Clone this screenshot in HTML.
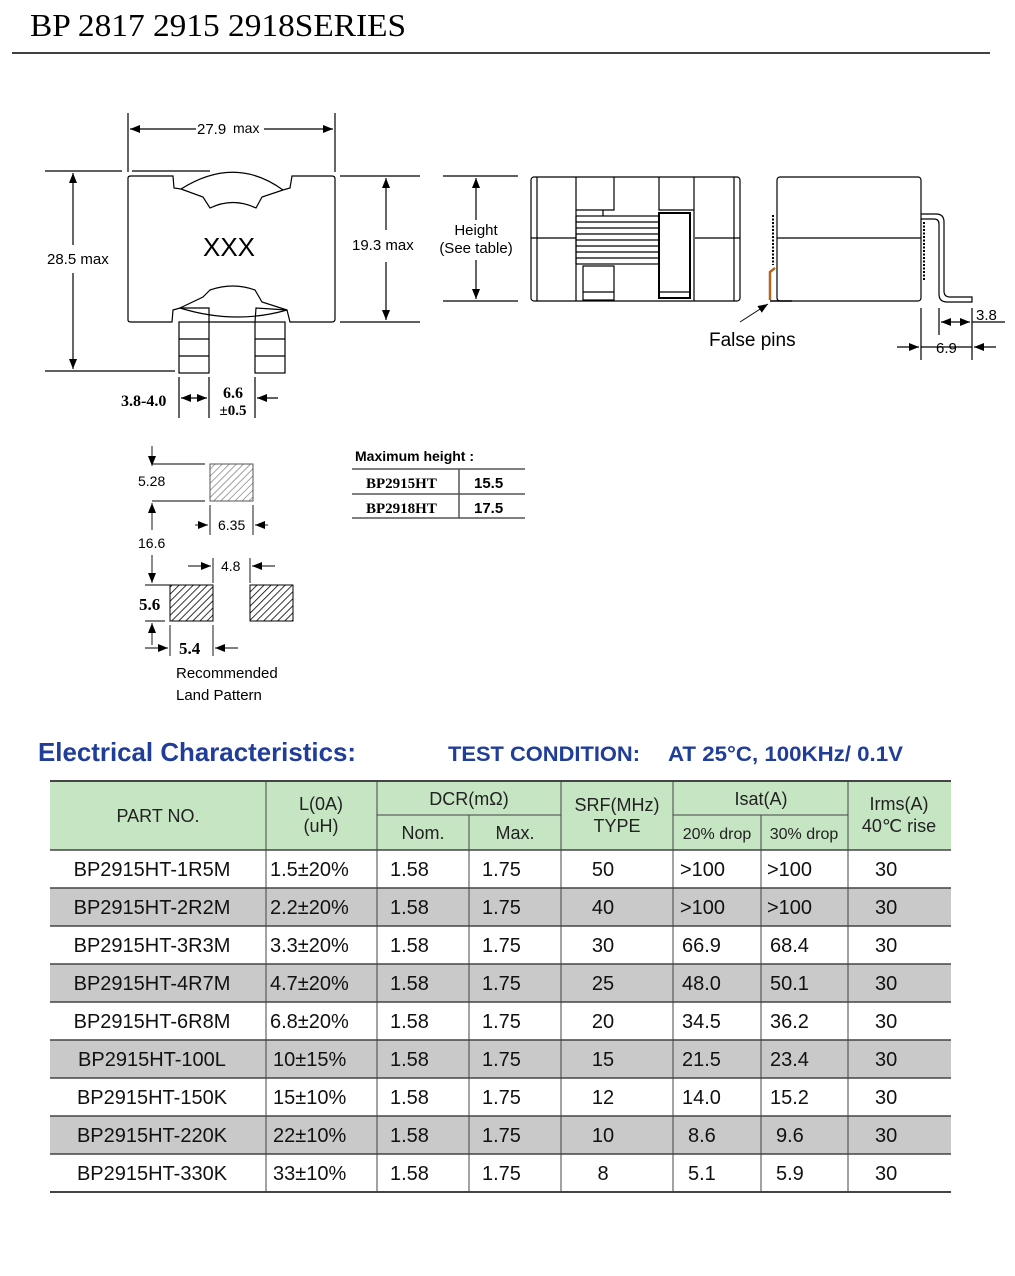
<!DOCTYPE html>
<html><head><meta charset="utf-8"><style>
html,body{margin:0;padding:0;background:#fff}
svg{display:block}
.s{font-family:"Liberation Sans",Arial,sans-serif}
.n{font-family:"Liberation Sans",sans-serif}
.r{font-family:"Liberation Serif",serif}
</style></head><body>
<svg width="1015" height="1276" viewBox="0 0 1015 1276" xmlns="http://www.w3.org/2000/svg">
<defs>
<marker id="a" markerWidth="10" markerHeight="8" refX="10" refY="4" orient="auto-start-reverse" markerUnits="userSpaceOnUse"><path d="M0,0 L10,4 L0,8 z" fill="#000"/></marker>
<pattern id="h" width="5" height="5" patternUnits="userSpaceOnUse" patternTransform="rotate(45)"><rect width="5" height="5" fill="#fff"/><line x1="0" y1="0" x2="0" y2="5" stroke="#000" stroke-width="1.6"/></pattern>
<pattern id="h2" width="5" height="5" patternUnits="userSpaceOnUse" patternTransform="rotate(45)"><rect width="5" height="5" fill="#fff"/><line x1="0" y1="0" x2="0" y2="5" stroke="#666" stroke-width="1.2"/></pattern>
</defs>
<text x="30" y="36" class="r" font-size="32" textLength="376" lengthAdjust="spacingAndGlyphs">BP 2817 2915 2918SERIES</text>
<line x1="12" y1="53" x2="990" y2="53" stroke="#000" stroke-width="1.5"/>

<g stroke="#000" stroke-width="1.2" fill="none">
<path d="M128,178 L128,320 Q128,322 131,322 L172,322 L173,310 L180,308 L209,308 L209,322 L255,322 L256,308 L287,310 L290,322 L332,322 Q335,322 335,319 L335,179 Q335,176 332,176 L292,176 L290,188 L283,190 Q235,155 181,189 L174,188 L173,176 L131,176 Q128,176 128,178 Z"/>
<path d="M181,189 L203,197 L210,208 Q233,197 256,208 L262,197 L283,190"/>
<path d="M180,308 Q235,325 287,310"/>
<path d="M180,308 L203,297 L210,290 Q233,282 255,290 L262,302 L287,310"/>
<rect x="179" y="322" width="30" height="51"/><line x1="179" y1="339" x2="209" y2="339"/><line x1="179" y1="356" x2="209" y2="356"/>
<rect x="255" y="322" width="30" height="51"/><line x1="255" y1="339" x2="285" y2="339"/><line x1="255" y1="356" x2="285" y2="356"/>
<line x1="128" y1="113" x2="128" y2="172"/><line x1="335" y1="113" x2="335" y2="172"/>
<line x1="130" y1="129" x2="196" y2="129" marker-start="url(#a)"/><line x1="264" y1="129" x2="333" y2="129" marker-end="url(#a)"/>
<line x1="45" y1="171" x2="122" y2="171"/><line x1="132" y1="171" x2="210" y2="171"/>
<line x1="45" y1="371" x2="175" y2="371"/>
<line x1="73" y1="173" x2="73" y2="245" marker-start="url(#a)"/><line x1="73" y1="273" x2="73" y2="369" marker-end="url(#a)"/>
<line x1="340" y1="176" x2="420" y2="176"/><line x1="340" y1="322" x2="420" y2="322"/>
<line x1="386" y1="178" x2="386" y2="230" marker-start="url(#a)"/><line x1="386" y1="262" x2="386" y2="320" marker-end="url(#a)"/>
<line x1="179" y1="377" x2="179" y2="418"/><line x1="209" y1="377" x2="209" y2="418"/><line x1="255" y1="377" x2="255" y2="418"/>
<line x1="181" y1="398" x2="207" y2="398" marker-start="url(#a)" marker-end="url(#a)"/>
<line x1="278" y1="398" x2="257" y2="398" marker-end="url(#a)"/>
<line x1="443" y1="176" x2="518" y2="176"/><line x1="443" y1="301" x2="518" y2="301"/>
<line x1="476" y1="178" x2="476" y2="220" marker-start="url(#a)"/><line x1="476" y1="260" x2="476" y2="299" marker-end="url(#a)"/>
<rect x="531" y="177" width="209" height="124" rx="3"/>
<line x1="537" y1="177" x2="537" y2="301"/><line x1="734" y1="177" x2="734" y2="301"/>
<line x1="531" y1="238" x2="576" y2="238"/><line x1="695" y1="238" x2="740" y2="238"/>
<line x1="576" y1="177" x2="576" y2="301"/><line x1="694" y1="177" x2="694" y2="301"/>
<path d="M614,177 L614,210 L576,210"/><path d="M659,177 L659,210 L694,210"/>
<line x1="603" y1="210" x2="603" y2="216"/>
<rect x="576" y="216" width="83" height="48"/>
<line x1="576" y1="222" x2="659" y2="222"/><line x1="576" y1="228" x2="659" y2="228"/><line x1="576" y1="234" x2="659" y2="234"/><line x1="576" y1="240" x2="659" y2="240"/><line x1="576" y1="246" x2="659" y2="246"/><line x1="576" y1="252" x2="659" y2="252"/><line x1="576" y1="258" x2="659" y2="258"/>
<rect x="659" y="213" width="31" height="85" stroke-width="2"/>
<rect x="583" y="266" width="31" height="34"/><line x1="583" y1="292" x2="614" y2="292"/><line x1="659" y1="292" x2="690" y2="292"/>
<rect x="777" y="177" width="144" height="124" rx="3"/>
<line x1="777" y1="238" x2="921" y2="238"/>
<line x1="773" y1="215" x2="773" y2="265" stroke-dasharray="2,1.5" stroke-width="2"/>
<line x1="924" y1="222" x2="924" y2="280" stroke-dasharray="2,1.5" stroke-width="2"/>
<path d="M921,214 L936,214 Q944,214 944,222 L944,291 Q944,297 950,297 L972,297 L972,302 L947,302 Q939,302 939,294 L939,224 Q939,219 934,219 L921,219"/>
<path d="M770,300 L770,272 L775,268" stroke="#b5651d" stroke-width="2.5"/>
<line x1="770" y1="301" x2="792" y2="301" stroke-width="1.5"/>
<line x1="740" y1="322" x2="768" y2="304" marker-end="url(#a)" stroke-width="0.9"/>
<line x1="921" y1="308" x2="921" y2="360"/><line x1="939" y1="308" x2="939" y2="335"/><line x1="972" y1="308" x2="972" y2="360"/>
<line x1="941" y1="322" x2="970" y2="322" marker-start="url(#a)" marker-end="url(#a)"/>
<line x1="972" y1="322" x2="1005" y2="322"/>
<line x1="897" y1="347" x2="919" y2="347" marker-end="url(#a)"/><line x1="996" y1="347" x2="974" y2="347" marker-end="url(#a)"/>
<line x1="921" y1="347" x2="972" y2="347"/>
<line x1="152" y1="446" x2="152" y2="466" marker-end="url(#a)" stroke-width="0.9"/>
<line x1="152" y1="464" x2="205" y2="464" stroke-width="0.9"/>
<line x1="152" y1="501" x2="205" y2="501" stroke-width="0.9"/>
<line x1="152" y1="530" x2="152" y2="503" marker-end="url(#a)" stroke-width="0.9"/>
<line x1="152" y1="555" x2="152" y2="583" marker-end="url(#a)" stroke-width="0.9"/>
<line x1="145" y1="585" x2="213" y2="585" stroke-width="0.9"/>
<line x1="145" y1="621" x2="165" y2="621" stroke-width="0.9"/>
<line x1="152" y1="645" x2="152" y2="623" marker-end="url(#a)" stroke-width="0.9"/>
<line x1="210" y1="505" x2="210" y2="535" stroke-width="0.9"/><line x1="253" y1="505" x2="253" y2="535" stroke-width="0.9"/>
<line x1="195" y1="525" x2="208" y2="525" marker-end="url(#a)" stroke-width="0.9"/><line x1="268" y1="525" x2="255" y2="525" marker-end="url(#a)" stroke-width="0.9"/>
<line x1="213" y1="558" x2="213" y2="583" stroke-width="0.9"/><line x1="250" y1="558" x2="250" y2="583" stroke-width="0.9"/>
<line x1="188" y1="566" x2="211" y2="566" marker-end="url(#a)" stroke-width="0.9"/><line x1="275" y1="566" x2="252" y2="566" marker-end="url(#a)" stroke-width="0.9"/>
<line x1="170" y1="625" x2="170" y2="656" stroke-width="0.9"/><line x1="213" y1="625" x2="213" y2="656" stroke-width="0.9"/>
<line x1="145" y1="648" x2="168" y2="648" marker-end="url(#a)" stroke-width="0.9"/><line x1="238" y1="648" x2="215" y2="648" marker-end="url(#a)" stroke-width="0.9"/>
</g>
<rect x="210" y="464" width="43" height="37" fill="url(#h2)" stroke="#555" stroke-width="1"/>
<rect x="170" y="585" width="43" height="36" fill="url(#h)" stroke="#000" stroke-width="1"/>
<rect x="250" y="585" width="43" height="36" fill="url(#h)" stroke="#000" stroke-width="1"/>

<g class="s" font-size="15" fill="#000">
<text x="197" y="134">27.9</text><text x="233" y="133" font-size="14">max</text>
<text x="47" y="264">28.5 max</text>
<text x="352" y="250">19.3 max</text>
<text x="203" y="256" font-size="26">XXX</text>
<text x="476" y="235" text-anchor="middle">Height</text>
<text x="476" y="253" text-anchor="middle">(See table)</text>
<text x="709" y="346" font-size="19">False pins</text>
<text x="976" y="320">3.8</text>
<text x="936" y="353">6.9</text>
<text x="138" y="486" font-size="14">5.28</text>
<text x="218" y="530" font-size="14">6.35</text>
<text x="138" y="548" font-size="14">16.6</text>
<text x="221" y="571" font-size="14">4.8</text>
<text x="176" y="678" font-size="15">Recommended</text>
<text x="176" y="700" font-size="15">Land Pattern</text>
<text x="355" y="461" font-size="14" font-weight="bold">Maximum height :</text>
</g>
<g class="r" font-weight="bold" font-size="16">
<text x="121" y="406">3.8-4.0</text>
<text x="233" y="398" text-anchor="middle">6.6</text>
<text x="233" y="415" text-anchor="middle" font-size="15">±0.5</text>
<text x="139" y="610" font-size="17">5.6</text>
<text x="179" y="654" font-size="17">5.4</text>
</g>
<g stroke="#555" stroke-width="1.5">
<line x1="352" y1="469" x2="525" y2="469"/><line x1="352" y1="494" x2="525" y2="494"/><line x1="352" y1="518" x2="525" y2="518"/>
<line x1="459" y1="469" x2="459" y2="518"/>
</g>
<g font-size="15" font-weight="bold">
<text x="366" y="488" class="r">BP2915HT</text><text x="474" y="488" class="s">15.5</text>
<text x="366" y="513" class="r">BP2918HT</text><text x="474" y="513" class="s">17.5</text>
</g>

<g class="n" font-weight="bold" fill="#1f3d99">
<text x="38" y="761" font-size="26" textLength="318" lengthAdjust="spacingAndGlyphs">Electrical Characteristics:</text>
<text x="448" y="761" font-size="21" textLength="192" lengthAdjust="spacingAndGlyphs">TEST CONDITION:</text>
<text x="668" y="761" font-size="21" textLength="235" lengthAdjust="spacingAndGlyphs">AT 25°C, 100KHz/ 0.1V</text>
</g>

<rect x="50" y="781" width="901" height="69" fill="#c6e5c3"/>
<g fill="#c9c9c9">
<rect x="50" y="888" width="901" height="38"/>
<rect x="50" y="964" width="901" height="38"/>
<rect x="50" y="1040" width="901" height="38"/>
<rect x="50" y="1116" width="901" height="38"/>
</g>
<g stroke="#444" stroke-width="1">
<line x1="50" y1="781" x2="951" y2="781" stroke-width="2"/>
<line x1="377" y1="815" x2="561" y2="815"/><line x1="673" y1="815" x2="848" y2="815"/>
<line x1="50" y1="850" x2="951" y2="850" stroke-width="1.5"/>
<line x1="50" y1="888" x2="951" y2="888" stroke-width="1.5"/>
<line x1="50" y1="926" x2="951" y2="926" stroke-width="1.5"/>
<line x1="50" y1="964" x2="951" y2="964" stroke-width="1.5"/>
<line x1="50" y1="1002" x2="951" y2="1002" stroke-width="1.5"/>
<line x1="50" y1="1040" x2="951" y2="1040" stroke-width="1.5"/>
<line x1="50" y1="1078" x2="951" y2="1078" stroke-width="1.5"/>
<line x1="50" y1="1116" x2="951" y2="1116" stroke-width="1.5"/>
<line x1="50" y1="1154" x2="951" y2="1154" stroke-width="1.5"/>
<line x1="50" y1="1192" x2="951" y2="1192" stroke-width="2"/>
<line x1="266" y1="781" x2="266" y2="1192"/><line x1="377" y1="781" x2="377" y2="1192"/>
<line x1="469" y1="815" x2="469" y2="1192"/><line x1="561" y1="781" x2="561" y2="1192"/>
<line x1="673" y1="781" x2="673" y2="1192"/><line x1="761" y1="815" x2="761" y2="1192"/>
<line x1="848" y1="781" x2="848" y2="1192"/>
</g>
<g class="n" font-size="18" fill="#222">
<text x="158" y="822" text-anchor="middle">PART NO.</text>
<text x="321" y="810" text-anchor="middle">L(0A)</text>
<text x="321" y="832" text-anchor="middle">(uH)</text>
<text x="469" y="805" text-anchor="middle">DCR(mΩ)</text>
<text x="423" y="839" text-anchor="middle">Nom.</text>
<text x="515" y="839" text-anchor="middle">Max.</text>
<text x="617" y="811" text-anchor="middle">SRF(MHz)</text>
<text x="617" y="832" text-anchor="middle">TYPE</text>
<text x="761" y="805" text-anchor="middle">Isat(A)</text>
<text x="717" y="839" text-anchor="middle" font-size="16">20% drop</text>
<text x="804" y="839" text-anchor="middle" font-size="16">30% drop</text>
<text x="899" y="810" text-anchor="middle">Irms(A)</text>
<text x="899" y="832" text-anchor="middle">40℃ rise</text>
</g>
<g class="n" font-size="20" fill="#111">
<g text-anchor="middle">
<text x="152" y="876">BP2915HT-1R5M</text><text x="152" y="914">BP2915HT-2R2M</text><text x="152" y="952">BP2915HT-3R3M</text><text x="152" y="990">BP2915HT-4R7M</text><text x="152" y="1028">BP2915HT-6R8M</text><text x="152" y="1066">BP2915HT-100L</text><text x="152" y="1104">BP2915HT-150K</text><text x="152" y="1142">BP2915HT-220K</text><text x="152" y="1180">BP2915HT-330K</text>
<text x="603" y="876">50</text><text x="603" y="914">40</text><text x="603" y="952">30</text><text x="603" y="990">25</text><text x="603" y="1028">20</text><text x="603" y="1066">15</text><text x="603" y="1104">12</text><text x="603" y="1142">10</text><text x="603" y="1180">8</text>
</g>
<text x="270" y="876">1.5±20%</text><text x="270" y="914">2.2±20%</text><text x="270" y="952">3.3±20%</text><text x="270" y="990">4.7±20%</text><text x="270" y="1028">6.8±20%</text><text x="273" y="1066">10±15%</text><text x="273" y="1104">15±10%</text><text x="273" y="1142">22±10%</text><text x="273" y="1180">33±10%</text>
<g>
<text x="390" y="876">1.58</text><text x="390" y="914">1.58</text><text x="390" y="952">1.58</text><text x="390" y="990">1.58</text><text x="390" y="1028">1.58</text><text x="390" y="1066">1.58</text><text x="390" y="1104">1.58</text><text x="390" y="1142">1.58</text><text x="390" y="1180">1.58</text>
<text x="482" y="876">1.75</text><text x="482" y="914">1.75</text><text x="482" y="952">1.75</text><text x="482" y="990">1.75</text><text x="482" y="1028">1.75</text><text x="482" y="1066">1.75</text><text x="482" y="1104">1.75</text><text x="482" y="1142">1.75</text><text x="482" y="1180">1.75</text>
<text x="680" y="876">&gt;100</text><text x="680" y="914">&gt;100</text><text x="682" y="952">66.9</text><text x="682" y="990">48.0</text><text x="682" y="1028">34.5</text><text x="682" y="1066">21.5</text><text x="682" y="1104">14.0</text><text x="688" y="1142">8.6</text><text x="688" y="1180">5.1</text>
<text x="767" y="876">&gt;100</text><text x="767" y="914">&gt;100</text><text x="770" y="952">68.4</text><text x="770" y="990">50.1</text><text x="770" y="1028">36.2</text><text x="770" y="1066">23.4</text><text x="770" y="1104">15.2</text><text x="776" y="1142">9.6</text><text x="776" y="1180">5.9</text>
<text x="875" y="876">30</text><text x="875" y="914">30</text><text x="875" y="952">30</text><text x="875" y="990">30</text><text x="875" y="1028">30</text><text x="875" y="1066">30</text><text x="875" y="1104">30</text><text x="875" y="1142">30</text><text x="875" y="1180">30</text>
</g>
</g>
</svg>
</body></html>
